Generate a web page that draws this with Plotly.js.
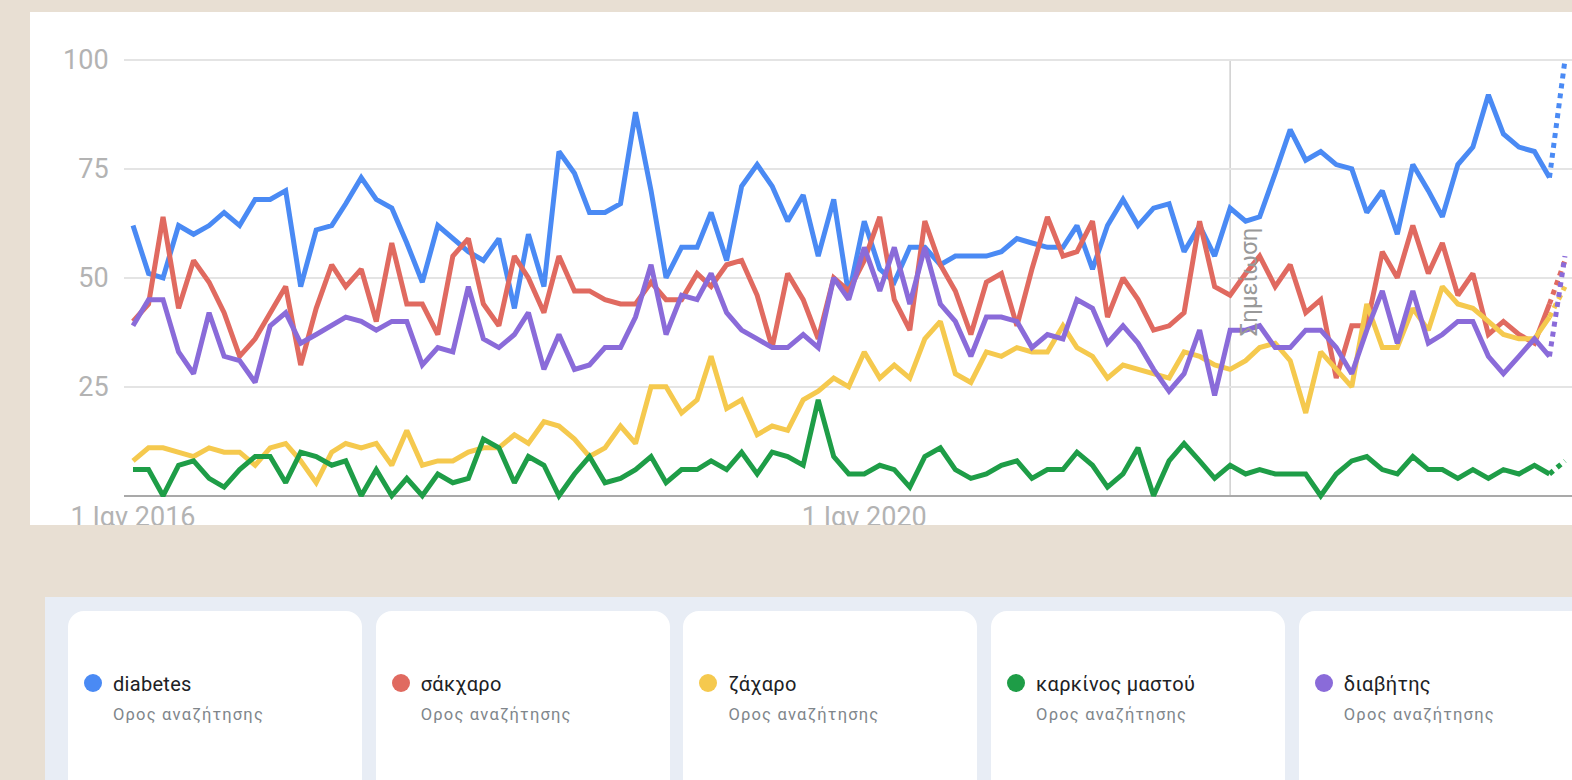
<!DOCTYPE html>
<html>
<head>
<meta charset="utf-8">
<script src="https://cdn.plot.ly/plotly-3.0.1.min.js"></script>
<style>
  html, body { margin:0; padding:0; width:1572px; height:780px; overflow:hidden; background:#E8DFD3; font-family: Roboto, "Open Sans", sans-serif; }
  #chart { position:absolute; left:30px; top:12px; width:1560px; height:513px; overflow:hidden; background:#fff; }
  #cards { position:absolute; left:45px; top:597px; width:1560px; height:200px; background:#E8EDF5; }
  .card { position:absolute; top:14px; width:294px; height:200px; background:#fff; border-radius:16px; }
  .dot { position:absolute; left:16px; top:63px; width:18px; height:18px; border-radius:50%; }
  .ttl { position:absolute; left:45px; top:61px; font-size:20px; line-height:24px; letter-spacing:0.3px; color:#202124; white-space:nowrap; }
  .sub { position:absolute; left:45px; top:93px; font-size:16.5px; line-height:22px; letter-spacing:1.2px; color:#80868b; white-space:nowrap; }
</style>
</head>
<body>
<div id="chart"></div>
<div id="cards"></div>
<script>
// ---- data (monthly, starting Jan 2016) ----
const startYear = 2016;
const seriesNames = ['diabetes', 'σάκχαρο', 'ζάχαρο', 'καρκίνος μαστού', 'διαβήτης'];
const termLabel = 'Ορος αναζήτησης';
const xTickVals = ['2016-01-01', '2020-01-01'];
const xTickText = ['1 Ιαν 2016', '1 Ιαν 2020'];
const yTickVals = [0, 25, 50, 75, 100];
const yTickText = ['', '25', '50', '75', '100'];
const noteDate = '2022-01-01';
const noteText = 'Σημείωση';

const diabetes = [62,51,50,62,60,62,65,62,68,68,70,48,61,62,67,73,68,66,58,49,
  62,59,56,54,59,43,60,48,79,74,65,65,67,88,70,50,57,57,65,54,
  71,76,71,63,69,55,68,46,63,52,49,57,57,53,55,55,55,56,59,58,
  57,57,62,52,62,68,62,66,67,56,62,55,66,63,64,74,84,77,79,76,
  75,65,70,60,76,70,64,76,80,92,83,80,79,73,100];
const sakcharo = [40,44,64,43,54,49,42,32,36,42,48,30,43,53,48,52,40,58,44,44,
  37,55,59,44,39,55,50,42,55,47,47,45,44,44,49,45,45,51,48,53,
  54,46,34,51,45,36,50,47,54,64,45,38,63,53,47,37,49,51,39,52,
  64,55,56,63,41,50,45,38,39,42,63,48,46,51,55,48,53,42,45,27,
  39,39,56,50,62,51,58,46,51,37,40,37,35,44,54];
const zacharo = [8,11,11,10,9,11,10,10,7,11,12,8,3,10,12,11,12,7,15,7,
  8,8,10,11,11,14,12,17,16,13,9,11,16,12,25,25,19,22,32,20,
  22,14,16,15,22,24,27,25,33,27,30,27,36,40,28,26,33,32,34,33,
  33,39,34,32,27,30,29,28,27,33,32,30,29,31,34,35,31,19,33,29,
  25,44,34,34,43,38,48,44,43,40,37,36,36,41,48];
const karkinos = [6,6,0,7,8,4,2,6,9,9,3,10,9,7,8,0,6,0,4,0,
  5,3,4,13,11,3,9,7,0,5,9,3,4,6,9,3,6,6,8,6,
  10,5,10,9,7,22,9,5,5,7,6,2,9,11,6,4,5,7,8,4,
  6,6,10,7,2,5,11,0,8,12,8,4,7,5,6,5,5,5,0,5,
  8,9,6,5,9,6,6,4,6,4,6,5,7,5,8];
const diavitis = [39,45,45,33,28,42,32,31,26,39,42,35,37,39,41,40,38,40,40,30,
  34,33,48,36,34,37,42,29,37,29,30,34,34,41,53,37,46,45,51,42,
  38,36,34,34,37,34,50,45,57,47,57,44,57,44,40,32,41,41,40,34,
  37,36,45,43,35,39,35,29,24,28,38,23,38,38,39,34,34,38,38,34,
  28,38,47,35,47,35,37,40,40,32,28,32,36,32,55];

// ---- styles ----
const seriesColors = ['#4A8AF4', '#E06A60', '#F5C94E', '#1E9D47', '#8A6BD9'];
const allSeries = [diabetes, sakcharo, zacharo, karkinos, diavitis];

function monthDates(n) {
  const out = [];
  for (let i = 0; i < n; i++) {
    const y = startYear + Math.floor(i / 12);
    const m = (i % 12) + 1;
    out.push(y + '-' + String(m).padStart(2, '0') + '-01');
  }
  return out;
}

const traces = [];
allSeries.forEach((vals, k) => {
  const dates = monthDates(vals.length);
  const last = vals.length - 1;
  traces.push({
    x: dates.slice(0, last), y: vals.slice(0, last),
    type: 'scatter', mode: 'lines', name: seriesNames[k],
    line: { color: seriesColors[k], width: 5 }, hoverinfo: 'skip', showlegend: false
  });
  traces.push({
    x: dates.slice(last - 1), y: vals.slice(last - 1),
    type: 'scatter', mode: 'lines', name: seriesNames[k],
    line: { color: seriesColors[k], width: 5, dash: 'dot' }, hoverinfo: 'skip', showlegend: false
  });
});

const layout = {
  width: 1560, height: 513,
  margin: { l: 94, r: 0, t: 0, b: 24 },
  paper_bgcolor: '#ffffff', plot_bgcolor: '#ffffff',
  font: { family: 'Roboto, sans-serif', color: '#b3b3b3' },
  xaxis: {
    type: 'date', range: ['2015-12-14', '2023-12-21'],
    tickmode: 'array', tickvals: xTickVals, ticktext: xTickText,
    showgrid: false, zeroline: false, showline: false,
    ticks: '', ticklabelstandoff: -3,
    tickfont: { size: 27, color: '#b3b3b3', family: 'Roboto, sans-serif' }
  },
  yaxis: {
    range: [-1.2, 111], tickmode: 'array', tickvals: yTickVals, ticktext: yTickText,
    showgrid: true, gridcolor: '#e4e4e4', gridwidth: 1.5,
    zeroline: true, zerolinecolor: '#a9a9a9', zerolinewidth: 1.5,
    showline: false, ticks: 'outside', ticklen: 9, tickcolor: 'rgba(0,0,0,0)',
    tickfont: { size: 27, color: '#b3b3b3', family: 'Roboto, sans-serif' }
  },
  shapes: [{
    type: 'line', xref: 'x', yref: 'y', x0: noteDate, x1: noteDate, y0: 0, y1: 100,
    line: { color: '#cfcfcf', width: 1.5 }, layer: 'below'
  }],
  annotations: [{
    x: noteDate, y: 49, xref: 'x', yref: 'y', text: noteText, textangle: -90,
    showarrow: false, xshift: 19, font: { size: 24, color: '#999999', family: 'Roboto, sans-serif' }
  }]
};

Plotly.newPlot('chart', traces, layout, { staticPlot: true, displayModeBar: false });

// ---- legend cards ----
const cards = document.getElementById('cards');
seriesNames.forEach((nm, k) => {
  const c = document.createElement('div');
  c.className = 'card';
  c.style.left = (23 + k * 307.7) + 'px';
  const d = document.createElement('div'); d.className = 'dot'; d.style.background = seriesColors[k];
  const t = document.createElement('div'); t.className = 'ttl'; t.textContent = nm;
  const s = document.createElement('div'); s.className = 'sub'; s.textContent = termLabel;
  c.appendChild(d); c.appendChild(t); c.appendChild(s);
  cards.appendChild(c);
});
</script>
</body>
</html>
